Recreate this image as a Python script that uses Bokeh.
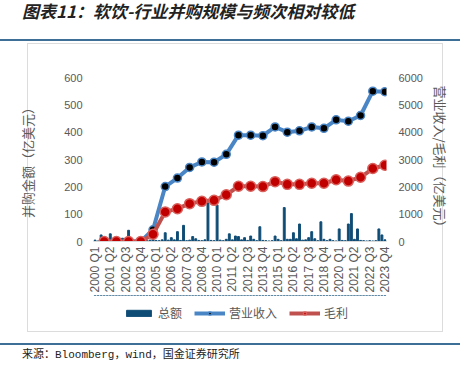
import math
from bokeh.plotting import figure
from bokeh.layouts import column
from bokeh.models import (Range1d, LinearAxis, FixedTicker, Legend, LegendItem, Div)
from bokeh.embed import file_html
from bokeh.resources import INLINE

years = list(range(2000, 2024))
quarters = [f"{y} Q{q}" for y in years for q in range(1, 5)]

# M&A total per quarter (亿美元)
ma_total = [
    5, 2, 24, 8, 3, 28, 4, 3, 6, 12, 3, 41,
    2, 1, 1, 2, 1, 3, 5, 8, 4, 3, 6, 32,
    5, 14, 6, 36, 4, 59, 3, 5, 18, 10, 4, 3,
    6, 141, 4, 3, 133, 5, 3, 8, 28, 6, 20, 18,
    6, 14, 4, 20, 8, 3, 54, 4, 3, 2, 3, 20,
    8, 3, 124, 8, 8, 32, 10, 64, 5, 6, 14, 36,
    10, 3, 72, 8, 3, 8, 3, 2, 46, 4, 3, 64,
    102, 8, 46, 4, 3, 2, 3, 2, 3, 46, 24, 6,
]
# Annual (Q4) revenue and gross profit (亿美元)
revenue = [0, 0, 0, 0, 430, 2010, 2320, 2710, 2910, 2900, 3190, 3890,
           3890, 3870, 4190, 4000, 4050, 4190, 4140, 4450, 4400, 4610, 5500, 5480]
gross = [0, 0, 0, 0, 265, 1083, 1200, 1385, 1470, 1505, 1710, 2020,
         2020, 2010, 2190, 2090, 2090, 2130, 2130, 2260, 2210, 2350, 2670, 2790]

tick_step = 5
left_ticks = [0, 100, 200, 300, 400, 500, 600]
right_ticks = [0, 1000, 2000, 3000, 4000, 5000, 6000]

title_text = "图表11：软饮-行业并购规模与频次相对较低"
source_text = "来源：Bloomberg，wind，国金证券研究所"
series_names = ["总额", "营业收入", "毛利"]

bar_x = list(range(len(quarters)))
line_x = [quarters.index(f"{y} Q4") for y in years]

CJK = "Noto Sans CJK SC"
GRAY = "#595959"
RULE = "#3e6f96"
BOX = "#dcdcdc"
BAR_C = "#0f4c75"
REV_C = "#4a86c6"
GP_C = "#c0504d"
W = 460


def draw_series(fig):
    b = fig.vbar(x=bar_x, top=ma_total, width=0.62, color=BAR_C)
    rl = fig.line(line_x, revenue, y_range_name="right", line_color=REV_C, line_width=4)
    rp = fig.scatter(line_x, revenue, y_range_name="right", size=8, fill_color="black",
                     line_color=REV_C, line_width=1.5)
    gl = fig.line(line_x, gross, y_range_name="right", line_color=GP_C, line_width=4)
    gp = fig.scatter(line_x, gross, y_range_name="right", size=10, fill_color="#c00000",
                     line_color="#d9605c", line_width=1.5)
    return b, rl, rp, gl, gp


def box_css(h, top, bottom):
    g = f"linear-gradient({BOX},{BOX})"
    imgs, sizes, poss = [g, g], [f"1px {h}px", f"1px {h}px"], ["27px 0px", "442px 0px"]
    if top:
        imgs.append(g); sizes.append("416px 1px"); poss.append("27px 2px")
        sizes[0] = sizes[1] = f"1px {h - 2}px"
        poss[0], poss[1] = "27px 2px", "442px 2px"
    if bottom:
        imgs.append(g); sizes.append("416px 1px"); poss.append(f"27px {h - 1}px")
    return {"background-image": ",".join(imgs), "background-size": ",".join(sizes),
            "background-position": ",".join(poss), "background-repeat": "no-repeat"}


P_H = 254
p = figure(width=W, height=P_H, output_backend="svg", toolbar_location=None,
           x_range=Range1d(-0.5, len(quarters) - 0.5),
           y_range=Range1d(left_ticks[0], left_ticks[-1]),
           min_border_left=93, min_border_right=74, min_border_top=36,
           min_border_bottom=52)
p.outline_line_color = None
p.xgrid.grid_line_color = None
p.ygrid.grid_line_color = None
p.background_fill_color = None
p.border_fill_color = None
p.extra_y_ranges = {"right": Range1d(right_ticks[0], right_ticks[-1])}
p.styles = box_css(P_H, True, False)
draw_series(p)

# x axis
xa = p.xaxis[0]
xa.ticker = FixedTicker(ticks=list(range(0, len(quarters), tick_step)))
xa.major_label_overrides = {i: quarters[i] for i in range(0, len(quarters), tick_step)}
xa.major_label_orientation = math.pi / 2
xa.major_label_text_font = "Liberation Sans"
xa.major_label_text_font_size = "12px"
xa.major_label_text_color = GRAY
xa.major_tick_line_color = None
xa.minor_tick_line_color = None
xa.major_tick_out = 0
xa.major_tick_in = 0
xa.axis_line_color = "#d9d9d9"
xa.major_label_standoff = 5

# left axis
ya = p.yaxis[0]
ya.ticker = FixedTicker(ticks=left_ticks)
ya.axis_label = "并购金额（亿美元）"
ya.axis_label_text_font = CJK
ya.axis_label_text_font_style = "normal"
ya.axis_label_text_font_size = "13px"
ya.axis_label_text_color = GRAY
ya.axis_label_standoff = 24
ya.major_label_text_font = "Liberation Sans"
ya.major_label_text_font_size = "11px"
ya.major_label_text_color = GRAY
ya.major_label_standoff = 11
ya.major_tick_out = 0
ya.major_tick_in = 0
ya.axis_line_color = None
ya.major_tick_line_color = None
ya.minor_tick_line_color = None

ra = LinearAxis(y_range_name="right", ticker=FixedTicker(ticks=right_ticks))
ra.axis_label = "营业收入/毛利（亿美元）"
ra.axis_label_text_font = CJK
ra.axis_label_text_font_style = "normal"
ra.axis_label_text_font_size = "13px"
ra.axis_label_text_color = GRAY
ra.axis_label_standoff = 5
ra.major_label_text_font = "Liberation Sans"
ra.major_label_text_font_size = "11px"
ra.major_label_text_color = GRAY
ra.major_label_standoff = 12
ra.major_tick_out = 0
ra.major_tick_in = 0
ra.axis_line_color = None
ra.major_tick_line_color = None
ra.minor_tick_line_color = None
p.add_layout(ra, "right")

# Legend strip: same series drawn off-range so only the legend shows
L_H = 37
pl = figure(width=W, height=L_H, output_backend="svg", toolbar_location=None,
            x_range=Range1d(-0.5, len(quarters) - 0.5), y_range=Range1d(-2000, -1000),
            min_border=0)
pl.extra_y_ranges = {"right": Range1d(-20000, -10000)}
pl.axis.visible = False
pl.xgrid.grid_line_color = None
pl.ygrid.grid_line_color = None
pl.outline_line_color = None
pl.background_fill_color = None
pl.border_fill_color = None
pl.styles = box_css(L_H, False, True)
lb, lrl, lrp, lgl, lgp = draw_series(pl)

legend = Legend(items=[
    LegendItem(label=series_names[0], renderers=[lb]),
    LegendItem(label=series_names[1], renderers=[lrl, lrp]),
    LegendItem(label=series_names[2], renderers=[lgl, lgp]),
], orientation="horizontal", location=(30, 11))
legend.label_text_font = CJK
legend.label_text_font_size = "12px"
legend.label_text_color = GRAY
legend.glyph_width = 31
legend.glyph_height = 8
legend.label_standoff = 4
legend.spacing = 12
legend.padding = 5
legend.margin = 0
legend.border_line_color = None
legend.background_fill_color = None
pl.add_layout(legend)

title_div = Div(
    text=(f'<div style="padding-left:22px;padding-top:1px;font-family:\'{CJK}\';font-size:17px;'
          f'font-weight:bold;font-style:italic;color:#222;line-height:20px;white-space:nowrap;">'
          f'{title_text}</div>'),
    width=W, height=41, margin=(0, 0, 0, 0),
    styles={"border-bottom": f"2px solid {RULE}"})

source_div = Div(
    text=(f'<div style="padding-left:22px;padding-top:4px;font-family:\'Liberation Mono\',\'{CJK}\';'
          f'font-size:11px;color:#222;line-height:13px;white-space:nowrap;">{source_text}</div>'),
    width=W, height=20, margin=(11, 0, 0, 0),
    styles={"border-top": f"2px solid {RULE}"})

layout = column(title_div, p, pl, source_div, spacing=0)

open("out.html", "w").write(file_html(layout, INLINE))
